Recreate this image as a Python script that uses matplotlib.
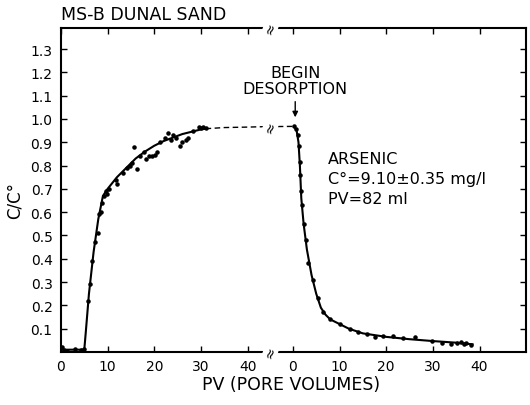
import numpy as np
import matplotlib
matplotlib.use("Agg")
import matplotlib.pyplot as plt

# pore volumes; the second (desorption) panel restarts at 0
BREAK_OFFSET = 49.7
tick_pv = [0, 10, 20, 30, 40]
y_ticks = [0.1, 0.2, 0.3, 0.4, 0.5, 0.6, 0.7, 0.8, 0.9, 1.0, 1.1, 1.2, 1.3]
y_labels = ["0.1", "0.2", "0.3", "0.4", "0.5", "0.6", "0.7", "0.8", "0.9",
            "1.0", "1.1", "1.2", "1.3"]

# adsorption (breakthrough) data
ads_pv = [0.2, 0.6, 1.2, 3.0, 4.2, 5.0, 5.8, 6.2, 6.7, 7.3, 7.9, 8.2, 8.5, 8.9,
          9.2, 9.6, 9.9, 10.4, 11.7, 12.0, 13.2, 14.2, 14.8, 15.3, 15.6, 16.3,
          17.0, 17.7, 18.3, 18.9, 19.5, 20.1, 20.6, 21.3, 22.3, 23.0, 23.5,
          24.0, 24.6, 25.5, 26.0, 26.7, 27.3, 28.4, 29.5, 30.0, 30.5, 31.0]
ads_c = [0.02, 0.01, 0.005, 0.012, 0.008, 0.015, 0.22, 0.29, 0.39, 0.47, 0.51,
         0.59, 0.60, 0.64, 0.67, 0.69, 0.68, 0.70, 0.74, 0.72, 0.77, 0.79, 0.80,
         0.81, 0.88, 0.785, 0.84, 0.86, 0.83, 0.84, 0.84, 0.845, 0.86, 0.90,
         0.92, 0.94, 0.91, 0.93, 0.92, 0.885, 0.90, 0.91, 0.92, 0.95, 0.965,
         0.96, 0.965, 0.962]

# hand-drawn fit through the adsorption points
ads_fit_pv = [0, 5, 5.3, 6, 7, 8, 9, 10, 12, 14, 16, 18, 20, 22, 24, 26, 28, 30, 31]
ads_fit_c = [0.01, 0.01, 0.08, 0.25, 0.43, 0.57, 0.67, 0.70, 0.75, 0.79, 0.83,
             0.86, 0.885, 0.905, 0.92, 0.935, 0.945, 0.955, 0.958]

# dashed bridge across the break
gap_u = [31, 35, 40, 44, BREAK_OFFSET + 0.3]
gap_c = [0.958, 0.963, 0.965, 0.967, 0.968]

# desorption data
des_pv = [0.3, 0.6, 1.0, 1.3, 1.5, 1.6, 1.8, 2.0, 2.4, 2.8, 3.3, 4.4, 5.4, 6.5,
          7.9, 10.0, 12.2, 14.0, 15.8, 17.6, 19.4, 21.5, 23.7, 26.2, 29.8, 32.0,
          33.8, 35.2, 36.0, 36.6, 37.2, 38.1]
des_c = [0.97, 0.955, 0.93, 0.885, 0.815, 0.76, 0.69, 0.63, 0.55, 0.48, 0.38,
         0.31, 0.23, 0.17, 0.14, 0.12, 0.10, 0.088, 0.077, 0.063, 0.067, 0.07,
         0.058, 0.063, 0.048, 0.04, 0.034, 0.038, 0.041, 0.036, 0.038, 0.031]

des_fit_pv = [0.3, 0.8, 1.2, 1.5, 1.8, 2.3, 3, 4, 5, 6, 7, 8, 10, 12, 15, 20,
              25, 30, 35, 38.5]
des_fit_c = [0.968, 0.95, 0.9, 0.8, 0.66, 0.55, 0.44, 0.33, 0.25, 0.19, 0.16,
             0.14, 0.12, 0.10, 0.08, 0.065, 0.055, 0.047, 0.04, 0.033]

fig = plt.figure(figsize=(5.3, 4.06), dpi=100)
ax = fig.add_axes([0.115, 0.1305, 0.877, 0.798])

ax.plot(ads_fit_pv, ads_fit_c, color="black", lw=1.5)
ax.plot(gap_u, gap_c, color="black", lw=1.0, dashes=(4, 2.5))
ax.plot(np.array(des_fit_pv) + BREAK_OFFSET, des_fit_c, color="black", lw=1.5)
ax.scatter(ads_pv, ads_c, s=5, color="black", zorder=3)
ax.scatter(np.array(des_pv) + BREAK_OFFSET, des_c, s=5, color="black", zorder=3)

ax.set_xlim(0, 99.6)
ax.set_ylim(0, 1.39)

xt = list(tick_pv) + [p + BREAK_OFFSET for p in tick_pv]
ax.set_xticks(xt)
ax.set_xticklabels([str(p) for p in tick_pv] * 2)
ax.set_yticks(y_ticks)
ax.set_yticklabels(y_labels)
ax.tick_params(direction="in", top=True, right=True, length=4, width=1,
               labelsize=10)
ax.tick_params(axis="y", pad=6)
ax.tick_params(axis="x", pad=5)

for s in ax.spines.values():
    s.set_linewidth(1.5)

# break marks on the axes and on the dashed line
brk = 44.9
for yy in [0, 1.39, 0.967]:
    ax.text(brk, yy, "≈", rotation=70, ha="center", va="center", fontsize=10,
            clip_on=False, zorder=5,
            bbox=dict(boxstyle="square,pad=0.02", fc="white", ec="none"))

ax.annotate("", xy=(50.2, 0.995), xytext=(50.2, 1.086),
            arrowprops=dict(arrowstyle="-|>", color="black", lw=1,
                            mutation_scale=8))
ax.text(50.2, 1.20, "BEGIN", ha="center", va="center", fontsize=11.5)
ax.text(50.2, 1.13, "DESORPTION", ha="center", va="center", fontsize=11.5)

ax.text(57.3, 0.83, "ARSENIC", ha="left", va="center", fontsize=11.5)
ax.text(57.3, 0.745, "C°=9.10±0.35 mg/l", ha="left", va="center", fontsize=11.5)
ax.text(57.3, 0.66, "PV=82 ml", ha="left", va="center", fontsize=11.5)

fig.text(0.115, 0.963, "MS-B DUNAL SAND", ha="left", va="center", fontsize=12.5)
ax.set_xlabel("PV (PORE VOLUMES)", fontsize=12.5)
ax.set_ylabel("C/C°", fontsize=12)
ax.xaxis.set_label_coords(0.496, -0.1)
ax.yaxis.set_label_coords(-0.1, 0.47)
ax.xaxis.label.set_va("center")
ax.yaxis.label.set_va("center")

fig.savefig("out.png", dpi=100)
